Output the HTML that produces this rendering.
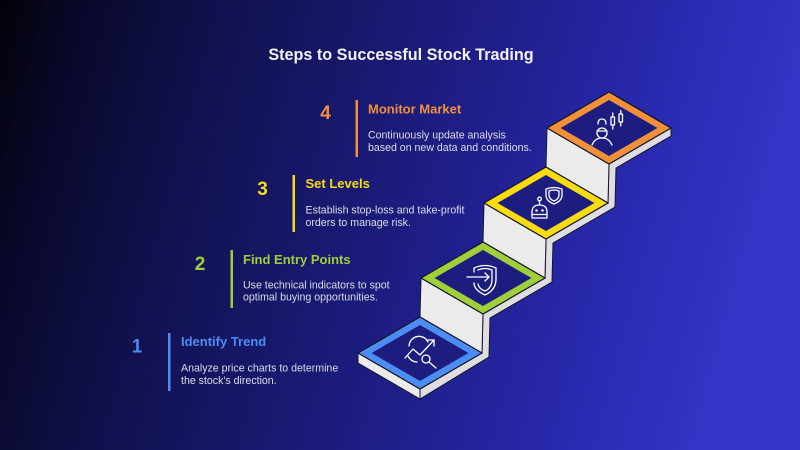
<!DOCTYPE html>
<html>
<head>
<meta charset="utf-8">
<style>
  html, body { margin: 0; padding: 0; width: 800px; height: 450px; overflow: hidden; background: #0b0b30; }
  svg { display: block; }
  text { font-family: "Liberation Sans", Arial, sans-serif; }
</style>
</head>
<body>
<svg width="800" height="450" viewBox="0 0 800 450" xmlns="http://www.w3.org/2000/svg">
  <defs>
    <linearGradient id="bg" x1="0" y1="0" x2="1" y2="0.15">
      <stop offset="0" stop-color="#020208"/>
      <stop offset="0.1" stop-color="#08082a"/>
      <stop offset="0.25" stop-color="#10104a"/>
      <stop offset="0.45" stop-color="#18186c"/>
      <stop offset="0.65" stop-color="#20208f"/>
      <stop offset="0.85" stop-color="#2a2ab2"/>
      <stop offset="1" stop-color="#3434c6"/>
    </linearGradient>
  </defs>
  <rect x="0" y="0" width="800" height="450" fill="url(#bg)"/>

  <!-- Title -->
  <text x="401" y="60" text-anchor="middle" font-size="16.2" font-weight="bold" fill="#f2f2f7">Steps to Successful Stock Trading</text>

  <!-- Staircase side strip -->
  <polygon points="420,389 482,353 483,314 545,278 546,239 608,203 609,164 671,128 671,136 616,168 615,207 553,243 552,282 490,318 489,357 420,399"
           fill="#dedee2" stroke="#15152a" stroke-width="1" stroke-linejoin="round"/>
  <!-- Risers -->
  <polygon points="421,278 483,314 482,353 420,317" fill="#ebebec" stroke="#15152a" stroke-width="1"/>
  <polygon points="484,203 546,239 545,278 483,242" fill="#ebebec" stroke="#15152a" stroke-width="1"/>
  <polygon points="547,128 609,164 608,203 546,167" fill="#ebebec" stroke="#15152a" stroke-width="1"/>
  <!-- Bottom slab front-left -->
  <polygon points="358,353 420,389 420,399 358,363" fill="#ebebec" stroke="#15152a" stroke-width="1"/>

  <!-- Step tops -->
  <g transform="translate(420,353)">
    <polygon points="-62,0 0,-36 62,0 0,36" fill="#4b8df3" stroke="#141428" stroke-width="1.2"/>
    <polygon points="-48.4,0 0,-28 48.4,0 0,28" fill="#1d1d80"/>
  </g>
  <g transform="translate(483,278)">
    <polygon points="-62,0 0,-36 62,0 0,36" fill="#9fcf3a" stroke="#141428" stroke-width="1.2"/>
    <polygon points="-48.4,0 0,-28 48.4,0 0,28" fill="#1d1d80"/>
  </g>
  <g transform="translate(546,203)">
    <polygon points="-62,0 0,-36 62,0 0,36" fill="#f6dc10" stroke="#141428" stroke-width="1.2"/>
    <polygon points="-48.4,0 0,-28 48.4,0 0,28" fill="#1d1d80"/>
  </g>
  <g transform="translate(609,128)">
    <polygon points="-62,0 0,-36 62,0 0,36" fill="#f0913a" stroke="#141428" stroke-width="1.2"/>
    <polygon points="-48.4,0 0,-28 48.4,0 0,28" fill="#1d1d80"/>
  </g>

  <!-- Icons -->
  <g fill="none" stroke="#ffffff" stroke-width="1.3" stroke-linecap="round" stroke-linejoin="round">
    <!-- Step 1: trend + magnifier -->
    <path d="M409 346 A10 10 0 0 1 428 342"/>
    <path d="M408 356 A10 10 0 0 0 417 362"/>
    <path d="M405 358 L413 349 L420 355 L434 340"/>
    <path d="M428 340 L434 340 L434 346"/>
    <circle cx="426" cy="359" r="4"/>
    <path d="M429 362 L436 368"/>

    <!-- Step 2: shield with arrow -->
    <path d="M474 272 L474 268 Q485 263 496 268 L496 279 Q496 290 485 295 Q474 290 474 283"/>
    <path d="M478 284 Q479 289 485 291 Q492 288 492 279 L492 270 Q485 267 478 270"/>
    <path d="M467 277 L489 277"/>
    <path d="M485 273 L489 277 L485 281"/>

    <!-- Step 3: shield + robot -->
    <path d="M546 189 Q554 186 562 189 L562 195 Q562 201 554 204 Q546 201 546 195 Z"/>
    <path d="M549 191 Q554 189 559 191 L559 195 Q559 199 554 201 Q549 199 549 195 Z"/>
    <path d="M532 218 L532 212 Q532 205 539.5 205 Q547 205 547 212 L547 218 Z"/>
    <path d="M532 214.5 L547 214.5"/>
    <path d="M539.5 205 L539.5 201"/>
    <circle cx="539.5" cy="199" r="1.8"/>
    <circle cx="536.5" cy="210.5" r="0.6" fill="#fff"/>
    <circle cx="542.5" cy="210.5" r="0.6" fill="#fff"/>

    <!-- Step 4: trader + candles -->
    <path d="M598 124 Q598 119 602 119 Q606 119 606 124"/>
    <circle cx="602" cy="133" r="5"/>
    <path d="M597 131 L607 131"/>
    <path d="M592 145 Q595 138 602 138 Q609 138 612 145"/>
    <rect x="611" y="117" width="3.5" height="8"/>
    <path d="M612.75 113 L612.75 117 M612.75 125 L612.75 129"/>
    <rect x="619" y="114" width="3.5" height="8"/>
    <path d="M620.75 110.5 L620.75 114 M620.75 122 L620.75 126"/>
  </g>

  <!-- Step 4 text -->
  <text x="325.5" y="119" text-anchor="middle" font-size="19" font-weight="bold" fill="#f0913a">4</text>
  <rect x="355.5" y="100" width="2.5" height="57" fill="#f0913a"/>
  <text x="368" y="113.5" font-size="13" font-weight="bold" fill="#f0913a">Monitor Market</text>
  <text x="368" y="138.3" font-size="10.6" fill="#dcdce8">Continuously update analysis</text>
  <text x="368" y="151" font-size="10.6" fill="#dcdce8">based on new data and conditions.</text>

  <!-- Step 3 text -->
  <text x="262.5" y="195" text-anchor="middle" font-size="19" font-weight="bold" fill="#f6dc10">3</text>
  <rect x="292.5" y="175" width="2.5" height="57" fill="#f6dc10"/>
  <text x="305.5" y="188" font-size="13" font-weight="bold" fill="#f6dc10">Set Levels</text>
  <text x="305.5" y="213.3" font-size="10.6" fill="#dcdce8">Establish stop-loss and take-profit</text>
  <text x="305.5" y="226" font-size="10.6" fill="#dcdce8">orders to manage risk.</text>

  <!-- Step 2 text -->
  <text x="200" y="270" text-anchor="middle" font-size="19" font-weight="bold" fill="#9fcf3a">2</text>
  <rect x="230.5" y="250" width="2.5" height="58" fill="#9fcf3a"/>
  <text x="243" y="264" font-size="13" font-weight="bold" fill="#9fcf3a">Find Entry Points</text>
  <text x="243" y="288.3" font-size="10.6" fill="#dcdce8">Use technical indicators to spot</text>
  <text x="243" y="300.7" font-size="10.6" fill="#dcdce8">optimal buying opportunities.</text>

  <!-- Step 1 text -->
  <text x="137" y="352.7" text-anchor="middle" font-size="19" font-weight="bold" fill="#4b8df3">1</text>
  <rect x="168" y="333" width="2.5" height="58" fill="#4b8df3"/>
  <text x="181" y="346" font-size="13" font-weight="bold" fill="#4b8df3">Identify Trend</text>
  <text x="181" y="371.7" font-size="10.6" fill="#dcdce8">Analyze price charts to determine</text>
  <text x="181" y="384" font-size="10.6" fill="#dcdce8">the stock's direction.</text>
</svg>
</body>
</html>
